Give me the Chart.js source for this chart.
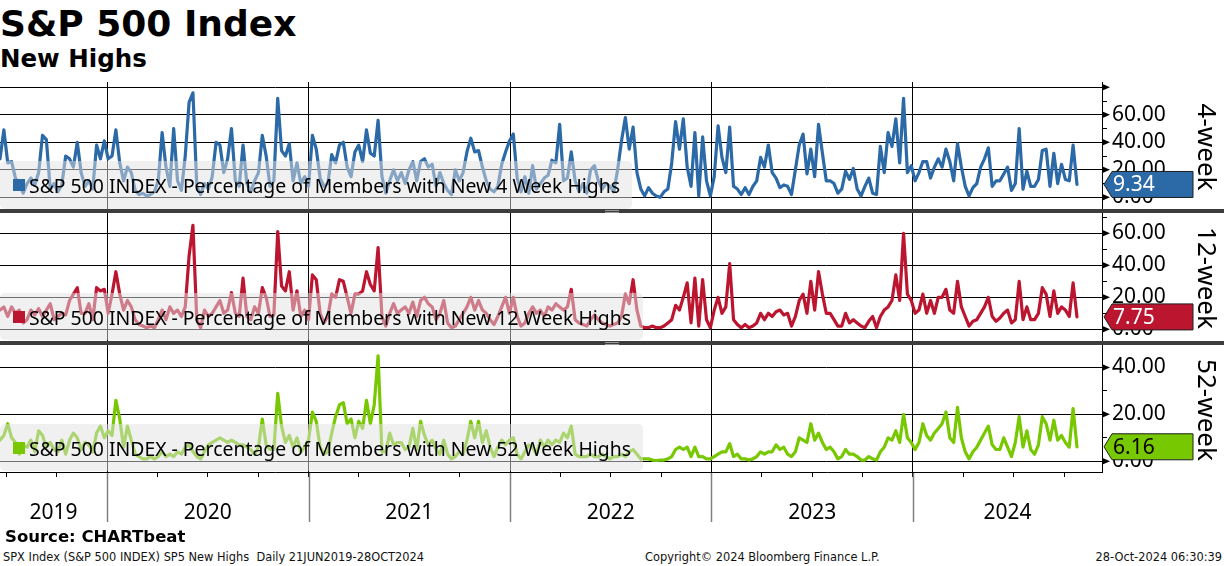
<!DOCTYPE html>
<html>
<head>
<meta charset="utf-8">
<script src="https://cdn.jsdelivr.net/npm/chart.js@4.4.1/dist/chart.umd.min.js"></script>
<style>
  body { margin:0; width:1224px; height:566px; background:#fff; position:relative; overflow:hidden; font-family:"DejaVu Sans", sans-serif; color:#000; }
  .t { position:absolute; white-space:pre; }
  #title { left:0; top:6px; font-size:36px; line-height:36px; font-weight:bold; }
  #sub { left:0; top:47px; font-size:24.5px; line-height:24.5px; font-weight:bold; }
  #src { left:5px; top:529px; font-size:16.5px; line-height:16.5px; font-weight:bold; }
  .foot { top:552px; font-size:11.4px; line-height:11.4px; color:#111; }
  canvas { position:absolute; left:0; }
  .sep { position:absolute; left:0; width:1224px; height:4px; background:#3d3d3d; }
  .grip { position:absolute; left:605px; width:14px; height:1px; border-top:1px solid #9a9a9a; border-bottom:1px solid #9a9a9a; }
</style>
</head>
<body>
<div class="t" id="title">S&amp;P 500 Index</div>
<div class="t" id="sub">New Highs</div>

<canvas id="p1" width="1224" height="127" style="top:82px"></canvas>
<div class="sep" style="top:209px"></div><div class="grip" style="top:210px"></div>
<canvas id="p2" width="1224" height="129" style="top:213px"></canvas>
<div class="sep" style="top:341px"></div><div class="grip" style="top:342px"></div>
<canvas id="p3" width="1224" height="185" style="top:345px"></canvas>

<div class="t" id="src">Source: CHARTbeat</div>
<div class="t foot" style="left:3px">SPX Index (S&amp;P 500 INDEX) SP5 New Highs  Daily 21JUN2019-28OCT2024</div>
<div class="t foot" style="left:645px">Copyright© 2024 Bloomberg Finance L.P.</div>
<div class="t foot" style="right:2px">28-Oct-2024 06:30:39</div>

<script>
// weekly readings, starting 21 Jun 2019
const blue4 = [
  28,49,25,26,14,10,3,10,14,9, 18,45,42,6,10,4,9,30,28,22,
  40,18,8,12,6,38,28,41,28,30, 49,25,12,22,18,5,2,3,1,2,
  4,12,47,22,8,50,12,5,30,69, 76,8,2,10,6,15,40,38,18,28,
  50,12,8,38,10,4,12,18,45,30, 8,12,72,34,30,39,12,25,10,15,
  8,45,35,14,8,10,31,25,38,40, 22,15,33,38,26,49,32,30,56,15,
  3,12,20,12,18,10,20,26,12,26, 28,22,24,8,18,10,5,2,20,12,
  18,33,43,33,34,22,12,6,4,8, 24,33,41,46,14,4,15,3,23,6,
  10,14,16,27,25,53,12,14,33,12, 4,10,3,20,23,12,6,10,8,4,
  20,41,58,35,51,18,6,1,7,3, 1,0,4,6,25,55,35,57,22,8,
  47,1,44,12,1,15,52,29,18,51, 8,6,2,7,2,8,12,29,22,38,
  18,14,7,9,8,2,20,38,46,17, 35,15,53,32,12,12,10,3,6,19,
  13,21,6,1,8,14,3,2,37,18, 47,37,57,25,72,18,23,12,18,26,
  26,14,22,28,22,35,26,12,39,22, 8,1,7,10,22,28,36,8,12,12,
  17,22,5,10,50,6,19,8,8,13, 34,35,8,32,10,24,13,12,38,9.34
];
const red12 = [
  12,14,8,14,10,12,4,6,12,9, 13,8,12,16,6,8,10,9,18,22,
  26,10,10,16,6,26,24,25,10,22, 36,22,12,18,14,6,3,2,1,2,
  1,6,12,6,14,10,12,8,14,46, 65,6,1,12,8,10,14,18,10,12,
  23,10,8,32,8,6,14,10,26,20, 8,9,61,27,24,36,12,24,8,12,
  6,34,31,10,4,8,22,20,31,30, 20,10,22,22,24,36,28,24,51,8,
  2,10,16,10,12,14,10,17,8,18, 20,16,14,6,10,18,4,1,2,6,
  10,14,20,12,18,12,10,6,3,8, 14,20,10,20,8,2,4,10,14,10,
  12,8,14,12,16,14,12,14,25,6, 4,3,2,6,9,6,4,3,2,3,
  4,8,22,16,31,12,2,1,1,2, 1,1,2,4,6,15,12,20,29,4,
  32,2,31,6,1,12,20,10,14,41, 6,3,1,3,1,2,4,10,6,10,
  8,11,12,9,10,2,8,18,22,10, 30,12,36,22,10,10,6,2,2,10,
  4,6,4,2,1,5,8,1,8,12, 14,18,34,18,60,22,18,10,12,22,
  10,18,10,20,20,25,12,10,30,14, 8,2,5,6,10,14,20,8,5,7,
  10,12,4,6,30,6,14,6,6,10, 26,22,8,24,10,14,12,8,29,7.75
];
const green52 = [
  9,11,16,10,8,3,7,6,9,4, 13,11,6,8,5,4,9,3,9,12,
  10,5,8,7,4,12,15,10,13,11, 26,18,6,15,9,3,2,1,1,2,
  1,2,4,2,3,2,4,3,6,7, 4,2,1,4,7,8,9,10,9,8,
  9,8,7,7,6,5,3,6,18,7, 5,5,29,15,8,11,6,10,4,6,
  9,21,17,6,3,4,12,19,24,25, 16,18,10,17,14,26,16,24,45,4,
  4,12,7,8,8,5,6,14,5,17, 11,7,9,5,3,9,3,1,2,4,
  3,9,17,10,17,8,13,6,2,6, 9,7,9,10,3,1,4,7,6,3,
  9,6,9,7,9,8,12,10,15,3, 2,2,2,3,2,2,3,2,1,2,
  2,3,2,4,5,3,1,1,1,0.5, 0.3,0.5,0.5,1,2,5,6,5,6,2,
  6,2,2,1,1,2,3,4,4,7.5, 2,3,1,1,0.5,1,2,4,3,4,
  4,7,5,6,3,2,4,10,9,8, 16,9,12,8,5,6,4,1,2,5,
  3,3,2,0.5,0.5,2,1,0.5,4,6, 10,9,13,8,20,10,8,5,8,16,
  11,9,12,14,16,21,10,8,23,10, 4,1,4,6,9,12,15,7,5,5,
  10,6,2,8,19,6,13,5,3,7, 19,16,9,17.5,9,11,8,6,22.5,6.16
];

const yearLabels = ['2019', '2020', '2021', '2022', '2023', '2024'];
const yTicks1 = [0, 10, 20, 30, 40, 50, 60, 70, 80];
const yTicks2 = [0, 10, 20, 30, 40, 50, 60, 70];
const yTicks3 = [0, 10, 20, 30, 40];
const lastLabels = ['9.34', '7.75', '6.16'];

const FONT = '"Noto Sans", sans-serif';

function decYear(d) {
  const y = d.getFullYear();
  const s = new Date(y, 0, 1), e = new Date(y + 1, 0, 1);
  return y + (d - s) / (e - s);
}
const xs = blue4.map((v, i) => decYear(new Date(2019, 5, 21 + 7 * i)));
const xMin = decYear(new Date(2019, 5, 21));
const xMax = 2024.9385;

const years = [];
for (let y = 2020; y <= 2024; y++) years.push(y);
const labelPos = yearLabels.map(s => {
  const y = +s;
  return (Math.max(y, xMin) + Math.min(y + 1, xMax)) / 2;
});
const quarters = [];
for (let q = 2019.5; q < xMax; q += 0.25) quarters.push(q);
const bottomTicks = quarters.concat(labelPos.filter(p => !quarters.some(q => Math.abs(q - p) < 1e-6)))
  .sort((a, b) => a - b);

const near = (a, b) => Math.abs(a - b) < 1e-6;
const isYear = v => near(v, Math.round(v));
const isQuarter = v => near(v * 4, Math.round(v * 4));

function decor(cfg) {
  return {
    id: 'decor',
    afterDatasetsDraw(chart) {
      const c = chart.ctx;
      const L = cfg.legend;
      c.save();
      c.fillStyle = 'rgba(226,226,226,0.5)';
      c.beginPath();
      c.roundRect(0, L.top, L.w, L.bottom - L.top, 5);
      c.fill();
      c.fillStyle = cfg.color;
      c.fillRect(13, L.base - 14, 12, 12);
      c.font = '20px ' + FONT;
      c.fillStyle = '#000';
      c.textBaseline = 'alphabetic';
      const m = c.measureText(L.text).width;
      c.translate(29, L.base);
      c.scale(L.tw / m, 1);
      c.fillText(L.text, 0, 0);
      c.restore();
    },
    afterDraw(chart) {
      const c = chart.ctx;
      const ys = chart.scales.y, xsc = chart.scales.x;
      const right = chart.chartArea.right;
      c.save();
      // arrow ticks on the right axis
      c.fillStyle = '#000';
      ys.ticks.forEach(t => {
        if (t.value % 20 !== 0) return;
        const py = ys.getPixelForValue(t.value);
        c.beginPath();
        c.moveTo(right, py - 3.5);
        c.lineTo(right + 8, py);
        c.lineTo(right, py + 3.5);
        c.closePath();
        c.fill();
      });
      // last value box
      const data = chart.data.datasets[0].data;
      const yc = ys.getPixelForValue(data[data.length - 1].y);
      c.beginPath();
      c.moveTo(right + 2, yc);
      c.lineTo(right + 10, yc - 13);
      c.lineTo(right + 91, yc - 13);
      c.lineTo(right + 91, yc + 13);
      c.lineTo(right + 10, yc + 13);
      c.closePath();
      c.fillStyle = cfg.color;
      c.fill();
      c.strokeStyle = '#1e1e1e';
      c.lineWidth = 1;
      c.stroke();
      c.fillStyle = cfg.boxText;
      c.font = '21px ' + FONT;
      c.textBaseline = 'middle';
      c.textAlign = 'left';
      c.fillText(cfg.last, right + 11, yc + 1);
      // side label
      c.translate(1198, 65);
      c.rotate(Math.PI / 2);
      c.textAlign = 'center';
      c.textBaseline = 'alphabetic';
      c.font = '26px ' + FONT;
      c.fillStyle = '#000';
      c.fillText(cfg.side, 0, 0);
      c.restore();
      // year lines through the date axis
      if (cfg.bottom) {
        c.save();
        c.strokeStyle = '#808080';
        c.lineWidth = 1.5;
        const b = chart.chartArea.bottom;
        years.forEach(y => {
          const px = Math.round(xsc.getPixelForValue(y)) + 0.5;
          c.beginPath();
          c.moveTo(px, b + 1);
          c.lineTo(px, b + 50);
          c.stroke();
        });
        c.restore();
      }
    }
  };
}

function panel(id, vals, cfg) {
  const bottom = !!cfg.bottom;
  return new Chart(document.getElementById(id), {
    type: 'line',
    data: {
      datasets: [{
        data: vals.map((v, i) => ({ x: xs[i], y: v })),
        borderColor: cfg.color,
        borderWidth: 3.2,
        borderJoinStyle: 'round',
        borderCapStyle: 'round',
        pointRadius: 0,
        tension: 0,
        fill: false
      }]
    },
    options: {
      responsive: false,
      animation: false,
      events: [],
      layout: { padding: 0 },
      plugins: { legend: { display: false }, tooltip: { enabled: false } },
      scales: {
        x: {
          type: 'linear',
          min: xMin,
          max: xMax,
          afterBuildTicks: s => { s.ticks = (bottom ? bottomTicks : years).map(v => ({ value: v })); },
          afterFit: s => { s.height = bottom ? 58 : 0; s.paddingLeft = 0; s.paddingRight = 0; },
          grid: {
            color: c => isYear(c.tick.value) ? '#000' : 'rgba(0,0,0,0)',
            lineWidth: 1,
            drawTicks: bottom,
            tickLength: 5,
            tickColor: c => isQuarter(c.tick.value) ? '#000' : 'rgba(0,0,0,0)'
          },
          border: { display: bottom, color: '#000', width: 1 },
          ticks: {
            display: bottom,
            autoSkip: false,
            maxRotation: 0,
            padding: 23,
            color: '#000',
            font: { family: FONT, size: 21 },
            callback: v => {
              const k = labelPos.findIndex(p => near(p, v));
              return k >= 0 ? yearLabels[k] : '';
            }
          }
        },
        y: {
          position: 'right',
          min: cfg.min,
          max: cfg.max,
          afterBuildTicks: s => { s.ticks = cfg.ticks.map(v => ({ value: v })); },
          afterFit: s => { s.width = 122; s.paddingTop = 0; s.paddingBottom = 0; },
          grid: {
            color: c => c.tick.value % 20 === 0 ? '#000' : 'rgba(0,0,0,0)',
            lineWidth: 1,
            drawTicks: true,
            tickLength: 5,
            tickColor: '#000'
          },
          border: { display: true, color: '#000', width: 1 },
          ticks: {
            autoSkip: false,
            padding: 5,
            color: '#000',
            font: { family: FONT, size: 21 },
            callback: v => (v % 20 === 0 && v <= 60) ? v.toFixed(2) : ''
          }
        }
      }
    },
    plugins: [decor(cfg)]
  });
}

panel('p1', blue4, {
  color: '#2b69a7', boxText: '#fff', last: lastLabels[0], side: '4-week',
  min: -8.5, max: 83.85, ticks: yTicks1,
  legend: { top: 79, bottom: 127, w: 632, base: 111, tw: 591,
            text: 'S&P 500 INDEX - Percentage of Members with New 4 Week Highs' }
});
panel('p2', red12, {
  color: '#bc1530', boxText: '#fff', last: lastLabels[1], side: '12-week',
  min: -7.94, max: 72.7, ticks: yTicks2,
  legend: { top: 80, bottom: 127, w: 643, base: 112, tw: 602,
            text: 'S&P 500 INDEX - Percentage of Members with New 12 Week Highs' }
});
panel('p3', green52, {
  color: '#77c800', boxText: '#000', last: lastLabels[2], side: '52-week', bottom: true,
  min: -4.6, max: 49.6, ticks: yTicks3,
  legend: { top: 79, bottom: 126, w: 643, base: 111, tw: 602,
            text: 'S&P 500 INDEX - Percentage of Members with New 52 Week Highs' }
});
</script>
</body>
</html>
